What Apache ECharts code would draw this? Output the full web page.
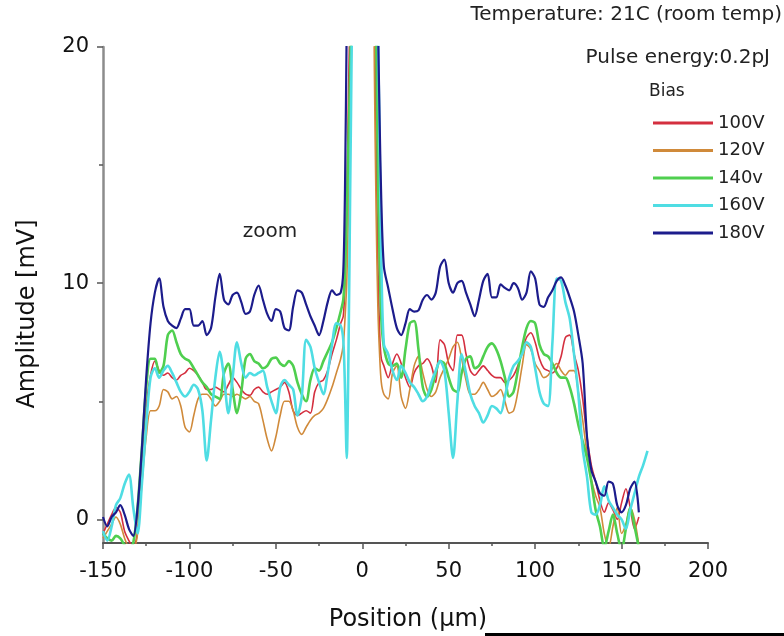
<!DOCTYPE html>
<html>
<head>
<meta charset="utf-8">
<script src="https://cdn.jsdelivr.net/npm/echarts@6/dist/echarts.min.js"></script>
<style>
html,body{margin:0;padding:0;background:#fff;}
#chart{width:784px;height:636px;}
</style>
</head>
<body>
<div id="chart"></div>
<script>
// Position (µm) sample points
var positions = [
 -150,-147.5,-145,-142.5,-140,-137.5,-135,-132.5,-130,-127.5,-125,-122.5,-120,-117.5,-115,-112.5,-110,-107.5,-105,-102.5,
 -100,-97.5,-95,-92.5,-90,-87.5,-85,-82.5,-80,-77.5,-75,-72.5,-70,-67.5,-65,-62.5,-60,-57.5,-55,-52.5,
 -50,-47.5,-45,-42.5,-40,-37.5,-35,-32.5,-30,-27.5,-25,-22.5,-20,-17.5,-15,-12.5,
 -11,-10,-9,-8,-7,-6,-5,-4,0,4,5,6,7,8,9,10,11,
 12.5,15,17.5,20,22.5,25,27.5,30,32.5,35,37.5,40,42.5,45,47.5,50,52.5,55,57.5,60,
 62.5,65,67.5,70,72.5,75,77.5,80,82.5,85,87.5,90,92.5,95,97.5,100,102.5,105,107.5,110,
 112.5,115,117.5,120,122.5,125,127.5,130,132.5,135,137.5,140,142.5,145,147.5,150,152.5,155,157.5,160,162.5,165
];

var seriesNames = ['100V','120V','140v','160V','180V'];

// Amplitude (mV)
var amp100 = [
 -0.6,-0.2,0.2,0.5,0.3,-0.5,-0.9,-1.2,-0.5,2.5,4.8,6.1,6.7,6.3,6.1,6.2,6.0,5.9,6.1,6.2,
 6.4,6.3,6.1,5.8,5.5,5.5,5.6,5.5,5.4,5.7,6.0,5.8,5.5,5.3,5.25,5.5,5.6,5.4,5.3,5.4,
 5.5,5.6,5.8,5.4,4.6,4.4,4.5,4.6,4.5,5.4,5.8,5.9,6.3,7.0,7.6,8.3,
 8.6,10,13,18,22,30,40,40,40,40,40,30,22,16,11,8,6.8,
 6.5,6.0,6.6,7.0,6.6,6.0,5.6,6.2,6.5,6.6,6.8,6.5,5.8,7.6,7.4,6.6,6.3,7.8,7.8,7.0,
 6.3,6.1,6.3,6.5,6.3,6.1,6.0,6.0,5.8,5.9,6.1,6.5,7.1,7.7,7.9,7.5,6.8,6.4,6.3,6.2,
 6.4,6.9,7.7,7.8,7.0,6.3,5.1,3.5,2.3,1.6,0.8,0.3,0.7,0.4,0.0,0.7,1.3,0.5,-0.4,0.1,null,null
];
var amp120 = [
 -0.8,-0.5,-0.2,0.1,-0.2,-0.8,-1.2,-1.3,-0.6,1.5,3.5,4.6,4.6,4.8,5.5,5.4,5.1,5.2,4.8,3.9,
 3.7,4.4,5.1,5.3,5.3,5.1,4.8,5.0,5.3,5.3,5.2,5.3,5.2,5.1,5.2,5.0,4.9,4.2,3.4,2.9,
 3.5,4.4,5.0,5.0,4.6,3.9,3.6,3.9,4.2,4.4,4.5,4.7,5.1,5.6,6.2,6.8,
 7.4,8.5,10,13,17,21,28,40,40,40,40,28,19,13,9,7,5.8,
 5.3,5.1,6.2,6.5,5.2,4.7,5.5,6.5,6.9,6.2,5.5,5.2,5.4,6.0,6.4,6.8,7.3,7.5,6.8,5.9,
 5.3,5.3,5.5,5.8,5.5,5.2,5.3,5.5,5.0,4.5,4.6,5.4,6.5,7.4,7.2,6.6,6.3,6.0,6.1,6.4,
 6.6,6.3,6.1,6.3,6.3,5.4,4.2,2.8,1.7,1.0,0.5,-0.6,-1.2,-0.3,0.5,-0.6,-0.2,0.5,0.0,-1.1,null,null
];
var amp140 = [
 -0.6,-0.8,-0.9,-0.7,-0.8,-1.1,-1.3,-1.0,0.5,3.0,5.6,6.8,6.8,6.2,6.5,7.8,8.0,7.5,7.0,6.8,
 6.7,6.4,6.1,5.8,5.6,5.3,5.2,5.1,6.2,6.6,5.5,4.5,5.4,6.8,7.0,6.7,6.6,6.4,6.5,6.8,
 6.85,6.6,6.5,6.7,6.5,5.8,5.3,5.0,5.9,6.4,6.3,6.7,7.1,7.5,8.1,8.8,
 9.3,10.5,13,16,19,23,30,40,40,40,40,36,27,21,15,11,8.5,
 7.3,6.6,6.5,6.6,6.0,7.2,8.3,8.4,7.2,5.6,5.2,5.5,6.2,6.7,6.6,6.0,5.5,5.4,6.2,6.8,
 6.9,6.4,6.5,6.9,7.3,7.45,7.2,6.7,6.0,5.2,5.4,6.3,7.3,8.1,8.4,8.3,7.4,7.0,6.9,6.6,
 6.2,6.0,6.0,5.6,4.9,4.0,3.3,2.6,1.6,0.4,-0.3,-1.2,-0.5,0.2,-0.6,-1.3,-0.4,0.5,-0.3,-1.2,null,null
];
var amp160 = [
 -0.5,-0.9,-0.3,0.6,0.9,1.5,1.9,0.5,-0.6,1.5,4.0,6.0,6.4,6.0,6.3,6.5,6.2,5.8,5.4,5.2,
 5.4,5.7,5.5,4.6,2.5,4.2,6.0,7.1,6.0,4.5,6.0,7.5,6.6,6.0,6.2,6.1,6.2,6.3,5.6,5.0,
 4.5,5.6,5.9,5.7,5.5,4.4,5.2,7.6,7.3,6.4,5.8,5.3,6.2,7.4,8.3,8.2,
 7.6,5.5,2.6,7,14,21,30,40,40,40,40,40,32,26,21,16,11,
 7.4,7.0,6.3,5.9,6.5,6.2,5.8,5.6,5.3,5.0,5.2,5.8,6.3,6.7,6.3,4.5,2.6,5.0,7.0,6.2,
 5.3,4.8,4.5,4.1,4.4,4.8,4.7,4.5,5.2,6.0,6.5,6.7,7.0,7.5,7.3,6.4,5.4,4.9,4.8,7.5,
 10.2,10.1,9.2,8.5,7.0,5.3,3.0,1.8,0.3,0.2,0.6,1.4,0.8,0.5,0.2,0.0,-0.4,0.4,1.1,1.8,2.3,2.9
];
var amp180 = [
 0.1,-0.3,0.1,0.3,0.6,0.2,-0.4,-0.7,0.5,3.0,6.0,8.3,9.6,10.2,9.0,8.4,8.2,8.1,8.5,8.9,
 8.9,8.2,8.2,8.4,7.8,8.1,9.4,10.4,9.3,9.1,9.5,9.6,9.2,8.7,8.8,9.5,9.9,9.3,8.7,8.4,
 8.9,8.8,8.1,8.0,9.0,9.7,9.6,9.1,8.6,8.2,7.8,8.4,9.2,9.7,9.5,9.6,
 10.5,14,21,28,34,40,40,40,40,40,40,40,34,27,21.5,17,13.5,
 10.7,9.8,8.9,8.1,7.8,8.3,8.9,8.8,8.85,9.3,9.5,9.3,9.6,10.7,11.0,10.0,9.6,10.0,10.1,9.6,
 9.1,8.6,9.3,10.1,10.4,9.4,9.4,9.95,9.8,9.7,10.0,9.8,9.3,9.6,10.5,10.2,9.1,9.0,9.4,9.7,
 10.1,10.25,9.9,9.4,8.8,7.8,6.6,3.5,2.1,1.6,1.1,1.0,1.6,1.5,0.6,0.3,0.6,1.3,1.6,0.3,null,null
];

var xTickValues = [-150,-100,-50,0,50,100,150,200];
var yTickLabels = [0,10,20];
var yMinorTicks = [5,15];

var amplitudes = [amp100, amp120, amp140, amp160, amp180];
var colors = ['#d42f3f','#d08a3a','#4fcf4f','#4fdde3','#1c1c8c'];
var widths = [1.6,1.6,2.6,2.6,2.2];

var FONT = '"DejaVu Sans", sans-serif';

var chart = echarts.init(document.getElementById('chart'), null, {renderer:'canvas'});

var series = amplitudes.map(function(vals, k){
  return {
    name: seriesNames[k],
    type: 'line',
    data: positions.map(function(x, i){ return [x, vals[i]]; }),
    symbol: 'none',
    smooth: 0.3,
    clip: true,
    connectNulls: false,
    color: colors[k],
    lineStyle: {color: colors[k], width: widths[k]},
    z: 2 + k
  };
});

chart.setOption({
  animation: false,
  backgroundColor: '#ffffff',
  grid: {left: 103, right: 76, top: 47, bottom: 93, containLabel: false},
  xAxis: {
    type: 'value', min: -150, max: 200, interval: 50,
    axisLine: {show: true, onZero: false, lineStyle: {color: '#555', width: 2}},
    axisTick: {show: true, inside: false, length: 6, lineStyle: {color: '#555', width: 1.5}},
    minorTick: {show: true, splitNumber: 2, length: 3, lineStyle: {color: '#555', width: 1.5}},
    axisLabel: {fontSize: 21, fontFamily: FONT, color: '#111', margin: 18,
      customValues: xTickValues},
    splitLine: {show: false}
  },
  yAxis: [{
    type: 'value', min: -1, max: 20, position: 'left',
    axisLine: {show: true, onZero: false, lineStyle: {color: '#8c8c8c', width: 2.5}},
    axisTick: {show: true, inside: false, length: 6, customValues: yTickLabels, lineStyle: {color: '#555', width: 1.5}},
    axisLabel: {fontSize: 21, fontFamily: FONT, color: '#111', margin: 14, customValues: yTickLabels},
    splitLine: {show: false}
  }, {
    type: 'value', min: -1, max: 20, position: 'left', offset: 0,
    axisLine: {show: false, onZero: false},
    axisTick: {show: true, inside: false, length: 4, customValues: yMinorTicks, lineStyle: {color: '#555', width: 1.5}},
    axisLabel: {show: false},
    splitLine: {show: false}
  }],
  legend: {
    orient: 'vertical', left: 648, top: 109,
    itemWidth: 60, itemHeight: 3, itemGap: 9.5, icon: 'rect',
    textStyle: {fontSize: 18, fontFamily: FONT, color: '#222', lineHeight: 18},
    data: seriesNames
  },
  graphic: [
    {type: 'text', x: 782, y: 15, style: {text: 'Temperature: 21C (room temp)', font: '20px ' + FONT, fill: '#222', align: 'right', verticalAlign: 'middle'}},
    {type: 'text', x: 770, y: 58, style: {text: 'Pulse energy:0.2pJ', font: '20px ' + FONT, fill: '#222', align: 'right', verticalAlign: 'middle'}},
    {type: 'text', x: 649, y: 92, style: {text: 'Bias', font: '17px ' + FONT, fill: '#222', align: 'left', verticalAlign: 'middle'}},
    {type: 'text', x: 270, y: 232, style: {text: 'zoom', font: '20px ' + FONT, fill: '#222', align: 'center', verticalAlign: 'middle'}},
    {type: 'text', x: 28, y: 314, rotation: Math.PI / 2, style: {text: 'Amplitude [mV]', font: '24px ' + FONT, fill: '#111', align: 'center', verticalAlign: 'middle'}},
    {type: 'text', x: 408, y: 620, style: {text: 'Position (µm)', font: '24px ' + FONT, fill: '#111', align: 'center', verticalAlign: 'middle'}},
    {type: 'rect', shape: {x: 485, y: 633, width: 299, height: 3}, style: {fill: '#000'}}
  ],
  series: series
});
</script>
</body>
</html>
